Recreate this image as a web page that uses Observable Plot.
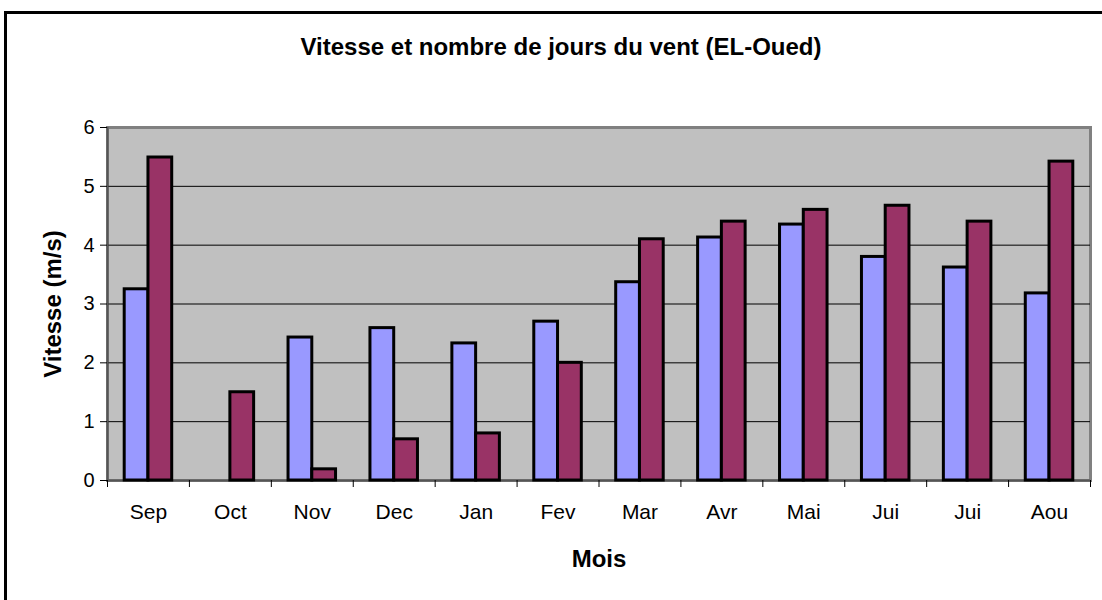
<!DOCTYPE html>
<html>
<head>
<meta charset="utf-8">
<script src="https://cdn.jsdelivr.net/npm/d3@7"></script>
<script src="https://cdn.jsdelivr.net/npm/@observablehq/plot@0.6"></script>
<style>
  html, body { margin: 0; padding: 0; background: #fff; overflow: hidden; }
  #wrap { position: relative; width: 1102px; height: 600px; overflow: hidden; font-family: "Liberation Sans", Arial, sans-serif; }
  #frame { position: absolute; left: 4px; top: 11px; width: 1200px; height: 700px; border: 3px solid #000; box-sizing: border-box; }
  #title { position: absolute; top: 33px; left: 0; width: 1122px; text-align: center; font-weight: bold; font-size: 24px; line-height: 28px; color: #000; }
  #chart { position: absolute; left: 0; top: 0; }
  #chart svg { font-family: "Liberation Sans", Arial, sans-serif; overflow: visible; }
  g[aria-label="y-axis label"] text, g[aria-label="x-axis label"] text { font-weight: bold; font-size: 24px; }
  g[aria-label="y-axis tick label"] text { font-size: 20px; }
  g[aria-label="x-axis tick label"] text { font-size: 21px; }
</style>
</head>
<body>
<div id="wrap">
  <div id="frame"></div>
  <div id="title">Vitesse et nombre de jours du vent (EL-Oued)</div>
  <div id="chart"></div>
</div>
<script>
const months = ["Sep", "Oct", "Nov", "Dec", "Jan", "Fev", "Mar", "Avr", "Mai", "Jui", "Jui", "Aou"];
const seriesA = [3.25, 0, 2.43, 2.59, 2.33, 2.7, 3.37, 4.13, 4.35, 3.8, 3.62, 3.18];
const seriesB = [5.49, 1.5, 0.19, 0.7, 0.8, 2.0, 4.1, 4.4, 4.6, 4.67, 4.4, 5.42];
const yTicks = [0, 1, 2, 3, 4, 5, 6];
const gridLines = [1, 2, 3, 4, 5];

const keys = months.map((m, i) => String(i));
const rowsA = keys.map((k, i) => ({key: k, value: seriesA[i]})).filter(d => d.value > 0);
const rowsB = keys.map((k, i) => ({key: k, value: seriesB[i]}));

const W = 1102, H = 600, mL = 107, mR = 12, mT = 127, mB = 120;
const bw = (W - mL - mR) / months.length;

const chart = Plot.plot({
  width: W, height: H,
  marginLeft: mL, marginRight: mR, marginTop: mT, marginBottom: mB,
  style: {background: "transparent", fontSize: "18px", color: "#000"},
  x: {domain: keys, padding: 0, round: false, label: null},
  y: {domain: [0, 6], label: null},
  marks: [
    Plot.frame({fill: "#c0c0c0", stroke: "#808080", strokeWidth: 3}),
    Plot.ruleY(gridLines, {stroke: "#000", strokeWidth: 1}),
    Plot.ruleY([0], {stroke: "#555", strokeWidth: 2}),
    Plot.ruleX([keys[0]], {dx: -bw / 2, stroke: "#555", strokeWidth: 2}),
    Plot.barY(rowsA, {x: "key", y: "value", fill: "#9999ff", stroke: "#000", strokeWidth: 3, insetLeft: bw * 0.21, insetRight: bw * 0.5}),
    Plot.barY(rowsB, {x: "key", y: "value", fill: "#993366", stroke: "#000", strokeWidth: 3, insetLeft: bw * 0.5, insetRight: bw * 0.21}),
    Plot.axisY({ticks: yTicks, tickSize: 7, tickPadding: 6, tickFormat: d => String(d), label: "Vitesse (m/s)", labelArrow: "none", labelAnchor: "center", labelOffset: 64}),
    Plot.axisX({tickSize: 7, dx: -bw / 2, tickFormat: () => "", label: null}),
    Plot.axisX({ticks: [keys[keys.length - 1]], tickSize: 7, dx: bw / 2, tickFormat: () => "", label: null}),
    Plot.axisX({tickSize: 0, tickPadding: 24, tickFormat: k => months[+k], label: "Mois", labelArrow: "none", labelAnchor: "center", labelOffset: 86})
  ]
});
document.getElementById("chart").appendChild(chart);
</script>
</body>
</html>
